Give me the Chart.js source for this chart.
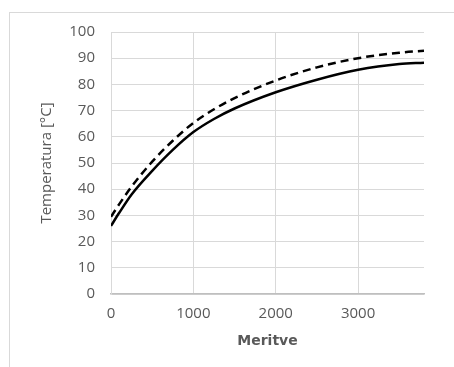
<!DOCTYPE html>
<html>
<head>
<meta charset="utf-8">
<script src="https://cdn.jsdelivr.net/npm/chart.js@4"></script>
<style>
  html, body { margin: 0; padding: 0; background: #fff; overflow: hidden; }
  #frame { position: absolute; left: 9px; top: 12px; width: 500px; height: 420px; border: 1px solid #d9d9d9; }
  #wrap { position: absolute; left: 0; top: 0; width: 454px; height: 367px; }
</style>
</head>
<body>
<div id="frame"></div>
<div id="wrap"><canvas id="TempChart" width="454" height="367"></canvas></div>
<script>
// values
const meritve = [0, 100, 250, 500, 750, 1000, 1250, 1500, 2000, 2500, 3000, 3500, 3800];
const solidTemp = [26, 31, 38, 47, 55, 61.8, 66.8, 70.8, 77, 81.8, 85.6, 87.8, 88.3];
const dashedTemp = [29.5, 34.3, 41, 50.5, 58.5, 65.3, 70.5, 74.8, 81.5, 86.5, 90, 92.1, 92.8];
const xTicks = [0, 1000, 2000, 3000];
const yTicks = [0, 10, 20, 30, 40, 50, 60, 70, 80, 90, 100];

function toPoints(xs, ys) {
  return xs.map((x, i) => ({ x: x, y: ys[i] }));
}

const tickFont = { family: 'Open Sans', size: 15 };
const gridColor = '#d9d9d9';
const textColor = '#595959';

const ctx = document.getElementById('TempChart').getContext('2d');
const myChart = new Chart(ctx, {
  type: 'scatter',
  data: {
    datasets: [{
      label: 'dashed',
      data: toPoints(meritve, dashedTemp),
      showLine: true,
      borderColor: '#000',
      borderWidth: 2.5,
      borderDash: [8, 5],
      pointRadius: 0,
      cubicInterpolationMode: 'monotone'
    }, {
      label: 'solid',
      data: toPoints(meritve, solidTemp),
      showLine: true,
      borderColor: '#000',
      borderWidth: 2.5,
      pointRadius: 0,
      cubicInterpolationMode: 'monotone'
    }]
  },
  options: {
    responsive: false,
    animation: false,
    layout: { padding: { left: 0, top: 32, right: 30, bottom: 0 } },
    plugins: { legend: { display: false }, tooltip: { enabled: false } },
    scales: {
      x: {
        type: 'linear',
        min: 0,
        max: 3800,
        afterFit: (s) => { s.height = 73; },
        afterBuildTicks: (s) => { s.ticks = xTicks.map(v => ({ value: v })); },
        grid: { color: gridColor, drawTicks: false },
        border: { color: '#bfbfbf', width: 1.5 },
        ticks: { font: tickFont, color: textColor, padding: 11, maxRotation: 0, callback: (v) => String(v) },
        title: {
          display: true,
          text: 'Meritve',
          font: { family: 'DejaVu Sans', size: 14, weight: 'bold' },
          color: textColor,
          padding: { top: 0, bottom: 17 }
        }
      },
      y: {
        min: 0,
        max: 100,
        afterFit: (s) => { s.width = 111; },
        afterBuildTicks: (s) => { s.ticks = yTicks.map(v => ({ value: v })); },
        grid: { color: gridColor, drawTicks: false },
        border: { color: gridColor },
        ticks: { font: tickFont, color: textColor, padding: 16, callback: (v) => String(v) },
        title: {
          display: true,
          text: 'Temperatura [°C]',
          font: { family: 'Open Sans', size: 15 },
          color: textColor,
          padding: { top: 38, bottom: 0 }
        }
      }
    }
  }
});
</script>
</body>
</html>
